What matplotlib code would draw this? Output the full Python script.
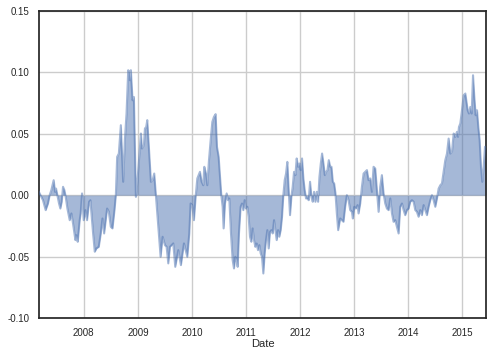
import datetime as dt
import matplotlib
matplotlib.use("Agg")
import matplotlib.pyplot as plt
import matplotlib.dates as mdates

# decimal-year dates and values
years = [
    2007.170, 2007.246, 2007.296, 2007.339, 2007.370, 2007.401, 2007.444, 2007.469, 2007.488, 2007.513,
    2007.543, 2007.568, 2007.593, 2007.617, 2007.642, 2007.667, 2007.698, 2007.741, 2007.772, 2007.802,
    2007.846, 2007.864, 2007.889, 2007.926, 2007.944, 2007.969, 2008.000, 2008.031, 2008.062, 2008.099,
    2008.123, 2008.173, 2008.204, 2008.235, 2008.278, 2008.315, 2008.346, 2008.377, 2008.432, 2008.463,
    2008.500, 2008.531, 2008.568, 2008.593, 2008.617, 2008.648, 2008.685, 2008.728, 2008.759, 2008.790,
    2008.821, 2008.840, 2008.852, 2008.870, 2008.901, 2008.926, 2008.963, 2008.988, 2009.056, 2009.074,
    2009.111, 2009.130, 2009.154, 2009.173, 2009.241, 2009.272, 2009.302, 2009.333, 2009.377, 2009.420,
    2009.457, 2009.500, 2009.531, 2009.562, 2009.593, 2009.654, 2009.691, 2009.747, 2009.796, 2009.852,
    2009.914, 2009.951,
    2009.975, 2010.006, 2010.037, 2010.068, 2010.099, 2010.123, 2010.148, 2010.179, 2010.210, 2010.228,
    2010.259, 2010.284, 2010.315, 2010.346, 2010.377, 2010.407, 2010.438, 2010.463, 2010.494, 2010.519,
    2010.543, 2010.568, 2010.586, 2010.611, 2010.642, 2010.667, 2010.691, 2010.722, 2010.753, 2010.778,
    2010.802, 2010.827, 2010.846, 2010.870, 2010.901, 2010.926, 2010.951, 2010.975, 2011.000, 2011.025,
    2011.049, 2011.074, 2011.099, 2011.123, 2011.148, 2011.173, 2011.198, 2011.222, 2011.247, 2011.272,
    2011.296, 2011.321, 2011.346, 2011.370, 2011.395, 2011.420, 2011.444, 2011.469, 2011.494, 2011.519,
    2011.543, 2011.568, 2011.593, 2011.617, 2011.642, 2011.667, 2011.691, 2011.716, 2011.741, 2011.765,
    2011.790, 2011.815, 2011.840, 2011.864, 2011.889, 2011.914, 2011.938, 2011.963, 2011.988, 2012.012,
    2012.037, 2012.062, 2012.086, 2012.111, 2012.136, 2012.160, 2012.185, 2012.210, 2012.235, 2012.259,
    2012.284, 2012.309, 2012.333, 2012.358, 2012.383, 2012.407, 2012.432, 2012.457, 2012.481, 2012.506,
    2012.531, 2012.556, 2012.580, 2012.605, 2012.630, 2012.654, 2012.679, 2012.704,
    2012.741, 2012.772, 2012.802, 2012.833, 2012.864, 2012.895, 2012.926, 2012.957, 2012.975, 2013.000,
    2013.031, 2013.062, 2013.080, 2013.111, 2013.142, 2013.173, 2013.204, 2013.235, 2013.265, 2013.296,
    2013.327, 2013.358, 2013.389, 2013.420, 2013.451, 2013.481, 2013.512, 2013.543, 2013.574, 2013.605,
    2013.636, 2013.667, 2013.698, 2013.728, 2013.759, 2013.790, 2013.821, 2013.852, 2013.883, 2013.914,
    2013.944, 2013.975, 2014.006, 2014.037, 2014.068, 2014.099, 2014.130, 2014.160, 2014.191, 2014.222,
    2014.253, 2014.284, 2014.315, 2014.346, 2014.377, 2014.407, 2014.438, 2014.469, 2014.500, 2014.531,
    2014.562, 2014.593, 2014.623, 2014.654, 2014.685, 2014.716, 2014.747, 2014.778, 2014.809, 2014.840,
    2014.870, 2014.901, 2014.920, 2014.938, 2014.963, 2014.994, 2015.025, 2015.056, 2015.074, 2015.099,
    2015.123, 2015.148, 2015.173, 2015.198, 2015.222, 2015.247, 2015.272, 2015.296, 2015.321, 2015.346,
    2015.370, 2015.395, 2015.420, 2015.440,
]

values = [
    0.0027, -0.0041, -0.0122, -0.0068, 0.0000, 0.0041, 0.0122, 0.0027, 0.0054, 0.0000,
    -0.0068, -0.0109, -0.0054, 0.0068, 0.0041, -0.0014, -0.0109, -0.0204, -0.0149, -0.0231,
    -0.0366, -0.0326, -0.0380, -0.0204, -0.0149, 0.0014, -0.0204, -0.0122, -0.0204, -0.0054,
    -0.0041, -0.0312, -0.0461, -0.0434, -0.0421, -0.0312, -0.0190, -0.0312, -0.0109, -0.0136,
    -0.0258, -0.0271, -0.0122, 0.0000, 0.0312, 0.0339, 0.0570, 0.0109, 0.0448, 0.0665,
    0.1018, 0.1004, 0.0936, 0.1018, 0.0773, 0.0800, -0.0014, 0.0095, 0.0502, 0.0380,
    0.0407, 0.0543, 0.0556, 0.0611, 0.0109, 0.0122, 0.0176, 0.0000, -0.0258, -0.0502,
    -0.0339, -0.0407, -0.0421, -0.0556, -0.0421, -0.0393, -0.0584, -0.0448, -0.0570, -0.0393,
    -0.0502, -0.0312,
    -0.0068, -0.0081, -0.0204, -0.0014, 0.0136, 0.0163, 0.0190, 0.0109, 0.0081, 0.0231,
    0.0176, 0.0081, 0.0285, 0.0448, 0.0597, 0.0638, 0.0660, 0.0394, 0.0312, 0.0149,
    0.0000, -0.0095, -0.0271, -0.0068, 0.0014, -0.0041, -0.0027, -0.0312, -0.0529, -0.0597,
    -0.0502, -0.0529, -0.0584, -0.0312, -0.0095, -0.0068, -0.0122, -0.0041, -0.0109, -0.0095,
    -0.0176, -0.0339, -0.0380, -0.0271, -0.0366, -0.0421, -0.0394, -0.0448, -0.0407, -0.0475,
    -0.0502, -0.0638, -0.0475, -0.0366, -0.0285, -0.0434, -0.0299, -0.0285, -0.0312, -0.0204,
    -0.0285, -0.0366, -0.0285, -0.0339, -0.0285, -0.0176, 0.0000, 0.0122, 0.0176, 0.0271,
    0.0041, -0.0163, -0.0014, 0.0068, 0.0190, 0.0163, 0.0299, 0.0231, 0.0258, 0.0204,
    0.0299, 0.0136, 0.0041, -0.0027, -0.0027, -0.0041, 0.0109, -0.0014, -0.0054, 0.0027,
    -0.0054, 0.0027, -0.0054, 0.0149, 0.0258, 0.0339, 0.0258, 0.0163, 0.0190, 0.0204,
    0.0285, 0.0231, 0.0231, 0.0109, 0.0095, 0.0014, -0.0149, -0.0285,
    -0.0190, -0.0204, -0.0217, -0.0095, 0.0000, -0.0041, -0.0122, -0.0136, -0.0190, -0.0095,
    -0.0109, -0.0081, -0.0149, -0.0068, 0.0068, 0.0176, 0.0190, 0.0204, 0.0122, 0.0136,
    0.0027, 0.0231, 0.0217, 0.0041, -0.0136, 0.0068, 0.0163, 0.0014, -0.0068, -0.0109,
    -0.0122, -0.0027, -0.0149, -0.0217, -0.0204, -0.0258, -0.0312, -0.0095, -0.0068, -0.0122,
    -0.0163, -0.0122, -0.0109, -0.0054, -0.0041, -0.0054, -0.0122, -0.0136, -0.0176, -0.0122,
    -0.0163, -0.0081, -0.0122, -0.0163, -0.0095, -0.0041, 0.0000, -0.0041, -0.0095, -0.0027,
    0.0054, 0.0081, 0.0095, 0.0190, 0.0285, 0.0339, 0.0461, 0.0339, 0.0353, 0.0502,
    0.0475, 0.0516, 0.0475, 0.0556, 0.0584, 0.0692, 0.0814, 0.0828, 0.0773, 0.0692,
    0.0665, 0.0719, 0.0665, 0.0977, 0.0801, 0.0651, 0.0692, 0.0556, 0.0448, 0.0231,
    0.0109, 0.0231, 0.0394, 0.0380,
]


def to_date(y):
    yr = int(y)
    start = dt.datetime(yr, 1, 1)
    end = dt.datetime(yr + 1, 1, 1)
    return start + (end - start) * (y - yr)


dates = [to_date(y) for y in years]

plt.rcParams['font.family'] = ['Liberation Sans', 'DejaVu Sans']
plt.rcParams['font.size'] = 7

fig = plt.figure(figsize=(4.92, 3.56), dpi=100)
ax = fig.add_axes([0.079, 0.107, 0.909, 0.862])

color = '#4C72B0'
ax.fill_between(dates, 0, values, color=color, alpha=0.5, linewidth=0, zorder=2)
ax.plot(dates, values, color=color, alpha=0.5, linewidth=1.5, zorder=3)

ax.set_xlim(dates[0], dates[-1])
ax.set_ylim(-0.10, 0.15)
ax.set_yticks([-0.10, -0.05, 0.00, 0.05, 0.10, 0.15])
ax.yaxis.set_major_formatter(matplotlib.ticker.FormatStrFormatter('%.2f'))
ax.xaxis.set_major_locator(mdates.YearLocator())
ax.xaxis.set_major_formatter(mdates.DateFormatter('%Y'))

ax.grid(True, color='#cccccc', linewidth=1, zorder=0)
ax.set_axisbelow(True)
for s in ax.spines.values():
    s.set_color('#262626')
    s.set_linewidth(1.25)
ax.tick_params(length=0, pad=7, colors='#262626', labelsize=7)
ax.set_xlabel('Date', fontsize=8, color='#262626', labelpad=1)

fig.savefig('out.png', dpi=100)
